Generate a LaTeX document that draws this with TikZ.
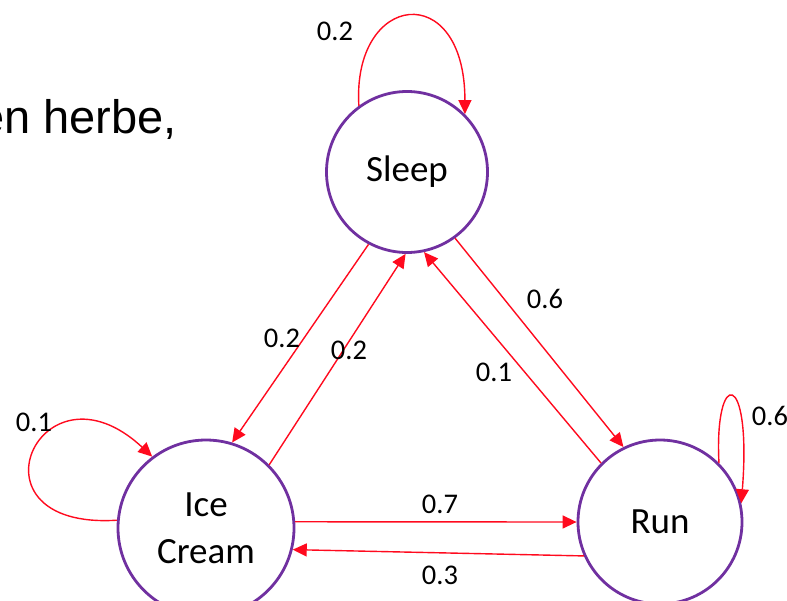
\documentclass[tikz,border=0pt]{standalone}
\usepackage{fontspec}
\setmainfont{Carlito}
\newfontfamily\slidefont{Liberation Sans}
\usetikzlibrary{arrows.meta}

\definecolor{statepurple}{RGB}{112,48,160}
\definecolor{edgered}{RGB}{255,10,30}

\begin{document}
\begin{tikzpicture}[x=1pt,y=-1pt,
  statenode/.style={circle,draw=statepurple,line width=2.8pt,fill=white,
    inner sep=0pt,font=\fontsize{37}{47}\selectfont,align=center},
  trans/.style={edgered,line width=1.4pt,-{Triangle[length=14pt,width=13pt]}},
  prob/.style={font=\fontsize{28.5}{30}\selectfont,inner sep=0pt}]
  \useasboundingbox (0,0) rectangle (787,600);
  \clip (0,0) rectangle (787,600);

  % bit of slide text left behind
  \node[anchor=base east,inner sep=0pt,font=\slidefont\fontsize{47}{50}\selectfont]
    (slide) at (177,133) {en herbe,};

  % the three states
  \node[statenode,minimum size=161pt] (sleep) at (407,172) {Sleep};
  \node[statenode,minimum size=176pt] (ice) at (206,528) {Ice\\Cream};
  \node[statenode,minimum size=164pt] (run) at (660,522) {Run};

  % self loops
  \draw[trans] (sleep.126) .. controls (352,-8) and (465,-22) .. (sleep.45);
  \draw[trans] (ice.175) .. controls (-40,530) and (40,352) .. (ice.127);
  \draw[trans] (run.45) .. controls (714,368) and (752,368) .. (run.13);

  % transitions between states
  \draw[trans] (sleep.242) -- (ice.73);
  \draw[trans] (ice.45) -- (sleep.269);
  \draw[trans] (sleep.306) -- (run.116);
  \draw[trans] (run.135) -- (sleep.282);
  \draw[trans] (ice.4) -- (run.180);
  \draw[trans] (run.204) -- (ice.346);

  % probabilities
  \node[prob] (p-ss) at (335,31) {0.2};
  \node[prob] (p-si) at (282,338) {0.2};
  \node[prob] (p-is) at (349,350) {0.2};
  \node[prob] (p-rs) at (494,372) {0.1};
  \node[prob] (p-sr) at (545,299) {0.6};
  \node[prob] (p-ii) at (34,422) {0.1};
  \node[prob] (p-rr) at (770,416) {0.6};
  \node[prob] (p-ir) at (440,504) {0.7};
  \node[prob] (p-ri) at (440,575) {0.3};
\end{tikzpicture}
\end{document}
